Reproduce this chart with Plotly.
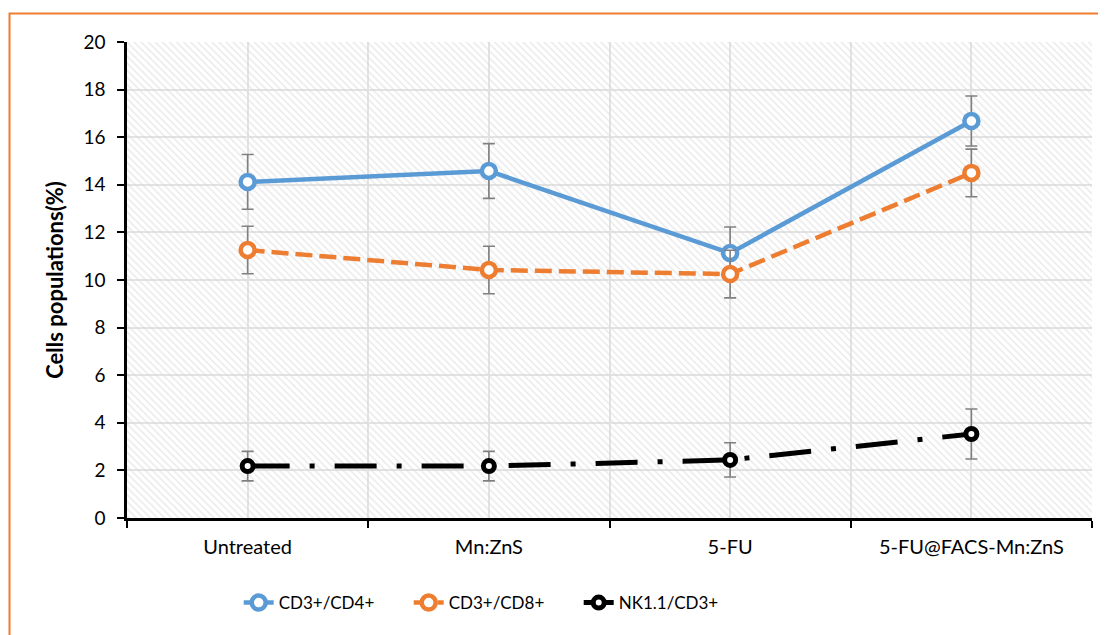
import plotly.graph_objects as go

categories = ["Untreated", "Mn:ZnS", "5-FU", "5-FU@FACS-Mn:ZnS"]
cd4 = [14.12, 14.58, 11.13, 16.68]
cd4_err = [1.15, 1.15, 1.1, 1.05]
cd8 = [11.26, 10.42, 10.25, 14.5]
cd8_err = [1.0, 1.0, 1.0, 1.0]
nk = [2.18, 2.18, 2.44, 3.53]
nk_err = [0.62, 0.62, 0.72, 1.05]
y_ticks = list(range(0, 21, 2))

FONT = "Lato, 'Open Sans', sans-serif"
fig = go.Figure()

# hatched plot-area background on base (hidden) axes
fig.add_trace(go.Bar(
    x=[0.5], y=[1], width=[1], xaxis="x", yaxis="y",
    marker=dict(color="rgba(0,0,0,0)", line=dict(width=0),
                pattern=dict(shape="\\", size=5, solidity=0.3,
                             fgcolor="#d6d6d6", bgcolor="rgba(0,0,0,0)")),
    hoverinfo="skip", showlegend=False))

err_style = dict(type="data", color="#808080", thickness=1.6, width=6)

fig.add_trace(go.Scatter(
    x=categories, y=cd4, name="CD3+/CD4+", xaxis="x2", yaxis="y2",
    mode="lines+markers",
    line=dict(color="#5B9BD5", width=4.5),
    marker=dict(symbol="circle", size=14, color="white",
                line=dict(color="#5B9BD5", width=4.5)),
    error_y=dict(array=cd4_err, **err_style)))
fig.add_trace(go.Scatter(
    x=categories, y=cd8, name="CD3+/CD8+", xaxis="x2", yaxis="y2",
    mode="lines+markers",
    line=dict(color="#ED7D31", width=4.5, dash="17px,7px"),
    marker=dict(symbol="circle", size=14, color="white",
                line=dict(color="#ED7D31", width=4.5)),
    error_y=dict(array=cd8_err, **err_style)))
fig.add_trace(go.Scatter(
    x=categories, y=nk, name="NK1.1/CD3+", xaxis="x2", yaxis="y2",
    mode="lines+markers",
    line=dict(color="black", width=5, dash="42px,20px,5px,20px"),
    marker=dict(symbol="circle", size=11, color="white",
                line=dict(color="black", width=5)),
    error_y=dict(array=nk_err, **err_style)))

OFF = 8  # browser body margin
W, H = 1106 - OFF, 635 - OFF
L, R, T, B = 127 - OFF, 1092 - OFF, 42 - OFF, 518 - OFF
pw, ph = R - L, B - T

fig.update_layout(
    width=W, height=H,
    margin=dict(l=L, r=W - R, t=T, b=H - B),
    paper_bgcolor="white", plot_bgcolor="white",
    font=dict(family=FONT, color="black"),
    xaxis=dict(range=[0, 1], showgrid=True, gridcolor="#e3e3e3", gridwidth=1.5,
               tickvals=[0, 0.25, 0.5, 0.75, 1], showticklabels=False,
               ticks="outside", ticklen=7, tickwidth=2, tickcolor="black",
               showline=True, linecolor="black", linewidth=2.5,
               zeroline=False, fixedrange=True),
    yaxis=dict(range=[0, 1], visible=False, fixedrange=True),
    xaxis2=dict(overlaying="x", type="category", side="bottom",
                categoryorder="array", categoryarray=categories,
                range=[-0.5, len(categories) - 0.5],
                showgrid=True, gridcolor="#e3e3e3", gridwidth=1.5,
                ticks="outside", ticklen=11, tickcolor="rgba(0,0,0,0)",
                tickfont=dict(size=20, family=FONT), showline=False),
    yaxis2=dict(overlaying="y", range=[0, 20], tickvals=y_ticks,
                showgrid=True, gridcolor="#e3e3e3", gridwidth=1.5,
                ticks="outside", ticklen=7, tickwidth=2, tickcolor="black",
                showline=True, linecolor="black", linewidth=2.5,
                tickfont=dict(size=19, family=FONT), zeroline=False,
                ticklabelstandoff=8,
                title=dict(text="<b>Cells populations(%)</b>",
                           font=dict(size=22, family=FONT), standoff=14)),
    legend=dict(orientation="h", x=0.38, xanchor="center",
                y=(B - (603 - OFF)) / ph, yanchor="middle",
                font=dict(size=17, family=FONT),
                entrywidth=125, entrywidthmode="pixels",
                bgcolor="rgba(0,0,0,0)"),
    showlegend=True,
    shapes=[dict(type="rect", xref="paper", yref="paper",
                 x0=(9.5 - OFF - L) / pw, x1=(W + 20 - L) / pw,
                 y0=(B - (H + 20)) / ph, y1=(B - (13.5 - OFF)) / ph,
                 line=dict(color="#ED7D31", width=2), fillcolor="rgba(0,0,0,0)",
                 layer="below")],
)

fig.write_html("out.html")
